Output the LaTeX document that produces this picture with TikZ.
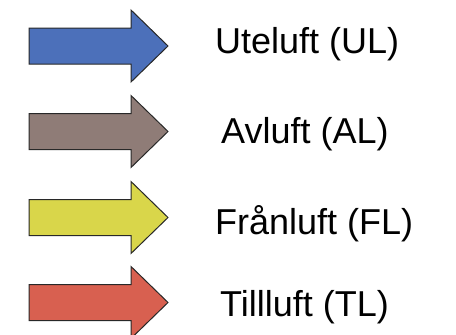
\documentclass[tikz,border=0pt]{standalone}
\usepackage{fontspec}
\setmainfont{Liberation Sans}
\definecolor{ulblue}{RGB}{76,112,186}
\definecolor{albrown}{RGB}{143,124,119}
\definecolor{flyellow}{RGB}{217,214,74}
\definecolor{tlred}{RGB}{216,96,80}
\definecolor{edge}{RGB}{40,40,40}
\begin{document}
\begin{tikzpicture}[x=1pt,y=-1pt,
  flowarrow/.style={draw=edge,line width=1pt,line join=miter},
  label/.style={anchor=base west,inner sep=0pt,font=\fontsize{36}{40}\selectfont}]
\useasboundingbox (0,0) rectangle (456,335);
\foreach \c/\col in {46/ulblue,131.5/albrown,217.5/flyellow,302.5/tlred}{
  \draw[flowarrow,fill=\col] (29,\c-18) -- (131,\c-18) -- (131,\c-36) -- (168,\c)
    -- (131,\c+36) -- (131,\c+18) -- (29,\c+18) -- cycle;
}
\node[label] (ul) at (215,53) {Uteluft (UL)};
\node[label] (al) at (221,143) {Avluft (AL)};
\node[label] (fl) at (215,234) {Frånluft (FL)};
\node[label] (tl) at (220,316) {Tillluft (TL)};
\end{tikzpicture}
\end{document}
